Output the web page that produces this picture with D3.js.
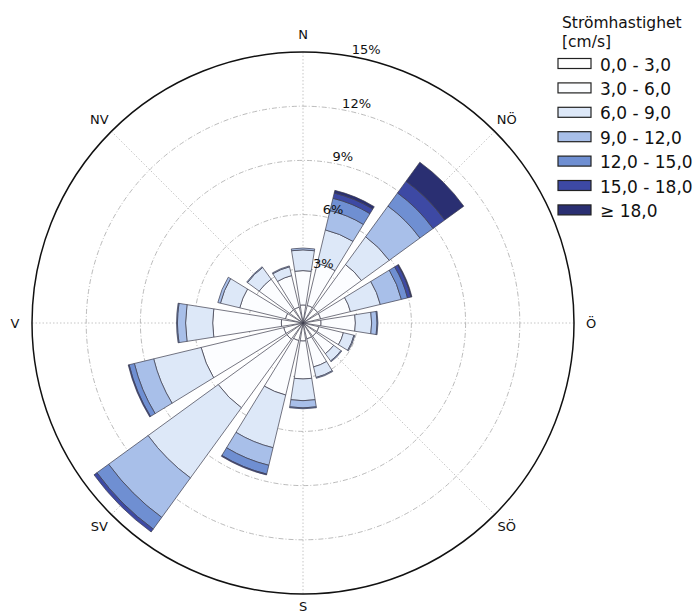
<!DOCTYPE html>
<html>
<head>
<meta charset="utf-8">
<script src="https://cdn.jsdelivr.net/npm/d3@7"></script>
<style>
  body { margin: 0; background: #fff; }
  svg text { font-family: "DejaVu Sans", sans-serif; fill: #111; }
</style>
</head>
<body>
<div id="rose"></div>
<script>
// Data ------------------------------------------------------------
// 16 sectors, clockwise from north
const directions = ["N", "NNÖ", "NÖ", "ÖNÖ", "Ö", "ÖSÖ", "SÖ", "SSÖ",
                    "S", "SSV", "SV", "VSV", "V", "VNV", "NV", "NNV"];
const compassLabels = ["N", "NÖ", "Ö", "SÖ", "S", "SV", "V", "NV"];
const binLabels = ["0,0 - 3,0", "3,0 - 6,0", "6,0 - 9,0", "9,0 - 12,0",
                   "12,0 - 15,0", "15,0 - 18,0", "\u2265 18,0"];
const rTicks = [3, 6, 9, 12, 15];

// frequency (%) per speed bin, one value per direction
const bin0 = [1.0, 1.0, 1.0, 1.0, 1.0, 0.9, 0.9, 0.9, 1.0, 1.0, 1.1, 1.1, 1.2, 1.0, 0.9, 0.9];
const bin1 = [1.9, 2.4, 3.0, 1.7, 1.9, 1.4, 1.2, 1.6, 2.1, 3.1, 4.7, 4.7, 3.8, 2.6, 2.1, 1.8];
const bin2 = [1.15, 1.9, 1.9, 1.7, 0.9, 0.6, 0.5, 0.6, 1.2, 3.0, 4.8, 2.7, 1.5, 1.1, 0.8, 0.5];
const bin3 = [0.1, 1.1, 2.1, 1.2, 0.3, 0.05, 0.05, 0.05, 0.4, 1.0, 2.7, 1.1, 0.45, 0.15, 0.05, 0.05];
const bin4 = [0, 0.7, 0.9, 0.35, 0.05, 0, 0, 0, 0.05, 0.5, 0.8, 0.3, 0.05, 0, 0, 0];
const bin5 = [0, 0.3, 0.8, 0.2, 0, 0, 0, 0, 0, 0.05, 0.2, 0.05, 0, 0, 0, 0];
const bin6 = [0, 0.15, 1.3, 0.05, 0, 0, 0, 0, 0, 0, 0, 0, 0, 0, 0, 0];

const binColors = ["#ffffff", "#fcfdff", "#dde8f8", "#a8bfe9", "#6f8fd2", "#3d49a4", "#2a2f72"];

// Layout ----------------------------------------------------------
const W = 693, H = 615;
const cx = 303, cy = 323, R = 271;

const svg = d3.select("#rose").append("svg")
    .attr("width", W).attr("height", H);

const g = svg.append("g").attr("transform", "translate(" + cx + "," + cy + ")");

const r = d3.scaleLinear().domain([0, 15]).range([0, R]);

const step = 2 * Math.PI / directions.length;
const opening = step * 0.8;

// grid: radial spokes every 45 degrees
g.selectAll(".spoke")
    .data(d3.range(8))
    .enter().append("line")
    .attr("x1", 0).attr("y1", 0)
    .attr("x2", d => R * Math.sin(d * Math.PI / 4))
    .attr("y2", d => -R * Math.cos(d * Math.PI / 4))
    .attr("stroke", "#b8b8b8")
    .attr("stroke-width", 0.8)
    .attr("stroke-dasharray", "1.5,2");

// grid: rings
g.selectAll(".ring")
    .data(rTicks.slice(0, -1))
    .enter().append("circle")
    .attr("r", d => r(d))
    .attr("fill", "none")
    .attr("stroke", "#aaaaaa")
    .attr("stroke-width", 0.8)
    .attr("stroke-dasharray", "5,2,1,2");

// stacked bars
const table = directions.map((dir, i) => ({
    dir: dir,
    b0: bin0[i], b1: bin1[i], b2: bin2[i], b3: bin3[i],
    b4: bin4[i], b5: bin5[i], b6: bin6[i]
}));
const keys = ["b0", "b1", "b2", "b3", "b4", "b5", "b6"];
const stacked = d3.stack().keys(keys)(table);

const arc = d3.arc()
    .innerRadius(d => r(d[0]))
    .outerRadius(d => r(d[1]))
    .startAngle(d => directions.indexOf(d.data.dir) * step - opening / 2)
    .endAngle(d => directions.indexOf(d.data.dir) * step + opening / 2);

g.selectAll(".layer")
    .data(stacked)
    .enter().append("g")
    .attr("fill", (d, i) => binColors[i])
    .selectAll("path")
    .data(d => d.filter(s => s[1] - s[0] > 0))
    .enter().append("path")
    .attr("d", arc)
    .attr("stroke", "#3c3c4c")
    .attr("stroke-width", 0.7);

// outer frame
g.append("circle")
    .attr("r", R)
    .attr("fill", "none")
    .attr("stroke", "#111")
    .attr("stroke-width", 1.5);

// radius labels
const labAng = 10.3 * Math.PI / 180;
g.selectAll(".rlab")
    .data(rTicks)
    .enter().append("text")
    .attr("x", d => (r(d) + 2) * Math.sin(labAng))
    .attr("y", d => -(r(d) + 2) * Math.cos(labAng))
    .attr("font-size", 13)
    .text(d => d + "%");

// compass labels (S sits a little closer so it stays inside the page)
const labR = [289, 288, 288, 288, 283, 288, 288, 288];
g.selectAll(".clab")
    .data(compassLabels)
    .enter().append("text")
    .attr("x", (d, i) => labR[i] * Math.sin(i * Math.PI / 4))
    .attr("y", (d, i) => -labR[i] * Math.cos(i * Math.PI / 4))
    .attr("text-anchor", "middle")
    .attr("dominant-baseline", "central")
    .attr("font-size", 13)
    .text(d => d);

// Legend ------------------------------------------------------------
const legend = svg.append("g").attr("transform", "translate(558,0)");
legend.append("text").attr("x", 4).attr("y", 28).attr("font-size", 15.5).text("Strömhastighet");
legend.append("text").attr("x", 4).attr("y", 47).attr("font-size", 15.5).text("[cm/s]");

const items = legend.selectAll(".item")
    .data(binLabels)
    .enter().append("g")
    .attr("transform", (d, i) => "translate(0," + (58.5 + i * 24.4) + ")");
items.append("rect")
    .attr("width", 33).attr("height", 10)
    .attr("fill", (d, i) => binColors[i])
    .attr("stroke", "#222")
    .attr("stroke-width", 1.2);
items.append("text")
    .attr("x", 42).attr("y", 12)
    .attr("font-size", 17)
    .text(d => d);
</script>
</body>
</html>
